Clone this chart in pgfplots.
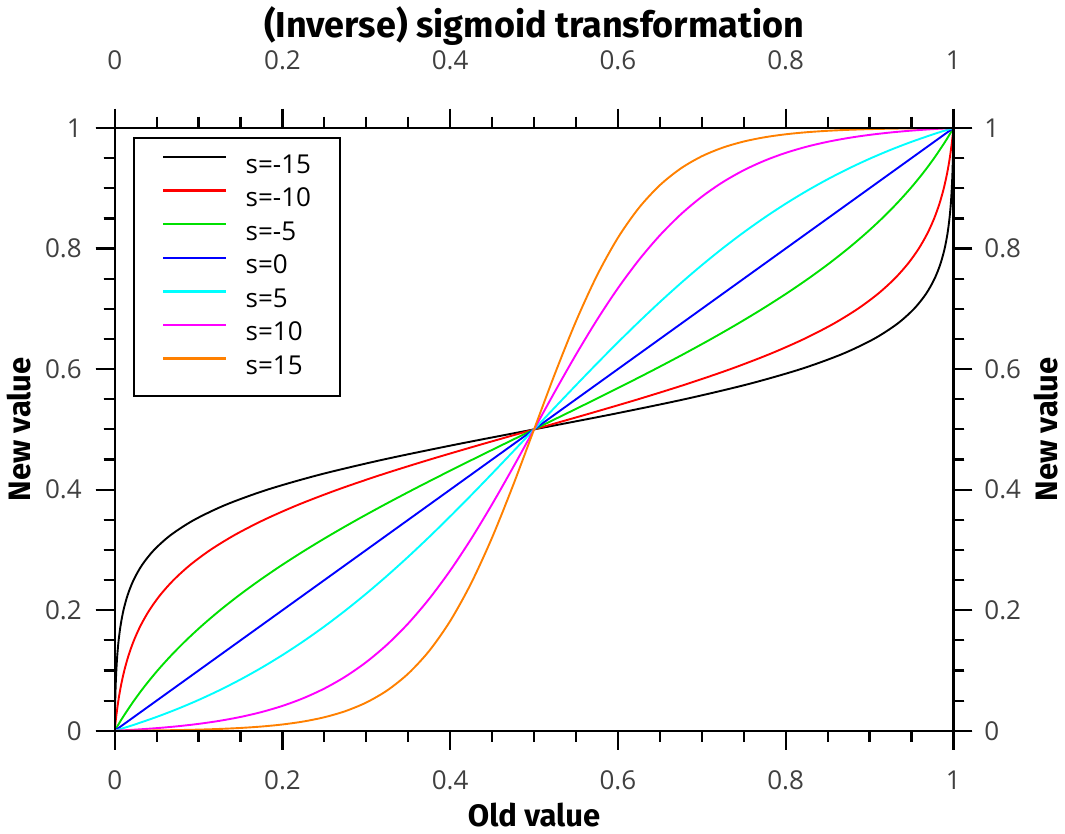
\documentclass[border=0pt]{standalone}
\usepackage{fontspec}
\setmainfont{Open Sans}
\newfontfamily\labelfont{Fira Sans}
\usepackage{pgfplots}
\usepackage{pgfplotstable}
\pgfplotsset{compat=1.18}

\definecolor{tickgray}{HTML}{404040}
\definecolor{sred}{RGB}{255,0,0}
\definecolor{sgreen}{RGB}{0,224,0}
\definecolor{sblue}{RGB}{0,0,255}
\definecolor{scyan}{RGB}{0,255,255}
\definecolor{smagenta}{RGB}{255,0,255}
\definecolor{sorange}{RGB}{255,128,0}

% x = old value, pN = new value for s = N (inverse curves: swap columns)
\pgfplotstableread{
x      p5       p10      p15
0      0        0        0
0.0125 0.005305 0.000896 0.000114
0.025  0.010894 0.001910 0.000252
0.05   0.022977 0.004352 0.000617
0.075  0.036348 0.007471 0.001149
0.1    0.051097 0.011447 0.001922
0.125  0.067320 0.016506 0.003044
0.15   0.085100 0.022926 0.004673
0.175  0.104515 0.031050 0.007032
0.2    0.125628 0.041286 0.010446
0.225  0.148483 0.054118 0.015371
0.25   0.173105 0.070104 0.022449
0.275  0.199493 0.089859 0.032570
0.3    0.227616 0.114037 0.046925
0.325  0.257410 0.143272 0.067068
0.35   0.288775 0.178117 0.094901
0.375  0.321575 0.218938 0.132558
0.4    0.355639 0.265806 0.182074
0.425  0.390758 0.318390 0.244803
0.45   0.426703 0.375880 0.320623
0.475  0.463209 0.436979 0.407229
0.5    0.5      0.5      0.5
0.525  0.536791 0.563021 0.592771
0.55   0.573297 0.624120 0.679377
0.575  0.609242 0.681610 0.755197
0.6    0.644361 0.734194 0.817926
0.625  0.678425 0.781062 0.867442
0.65   0.711225 0.821883 0.905099
0.675  0.742590 0.856728 0.932932
0.7    0.772384 0.885963 0.953075
0.725  0.800507 0.910141 0.967430
0.75   0.826895 0.929896 0.977551
0.775  0.851517 0.945882 0.984629
0.8    0.874372 0.958714 0.989554
0.825  0.895485 0.968950 0.992968
0.85   0.914900 0.977074 0.995327
0.875  0.932680 0.983494 0.996956
0.9    0.948903 0.988553 0.998078
0.925  0.963652 0.992529 0.998851
0.95   0.977023 0.995648 0.999383
0.975  0.989106 0.998090 0.999748
0.9875 0.994695 0.999104 0.999886
1      1        1        1
}\sigdata

\pgfplotsset{
  sigax/.style={
    scale only axis,
    width=419.5pt, height=301.5pt,
    xmin=0, xmax=1, ymin=0, ymax=1,
    xtick={0,0.2,0.4,0.6,0.8,1},
    ytick={0,0.2,0.4,0.6,0.8,1},
    minor tick num=3,
    tick align=outside,
    major tick length=9.5pt,
    minor tick length=5.5pt,
    axis line style={line width=1.1pt},
    tick style={line width=1.1pt, black},
    ticklabel style={font=\fontsize{13}{15}\selectfont, text=tickgray},
    /pgf/number format/assume math mode=true,
  },
}

\begin{document}
\begin{tikzpicture}
\begin{axis}[
  sigax,
  xticklabel pos=lower, yticklabel pos=left,
  xticklabel style={yshift=-7pt},
  yticklabel style={xshift=-3.5pt},
  xlabel={\labelfont\bfseries Old value},
  ylabel={\labelfont\bfseries New value},
  xlabel style={at={(axis description cs:0.5,-0.14)}, anchor=center, font=\fontsize{15.5}{18}\selectfont},
  ylabel style={at={(axis description cs:-0.1145,0.5)}, anchor=center, font=\fontsize{15.5}{18}\selectfont},
  every axis plot/.append style={line width=0.95pt, smooth},
  legend style={
    at={(axis description cs:0.0215,0.985)}, anchor=north west,
    draw=black, line width=1pt,
    font=\fontsize{13}{15}\selectfont,
    inner xsep=14.5pt, inner ysep=8pt,
    row sep=4.8pt, column sep=10pt,
    nodes={inner sep=0pt, text height=9.5pt, text depth=2.5pt},
  },
  legend cell align=left,
  legend image code/.code={\fill[#1, draw=none] (0pt,3.9pt) rectangle (31.5pt,5.1pt);},
]
\addplot[black]    table[x=p15, y=x] {\sigdata};
\addlegendentry{s=-15}
\addplot[sred]     table[x=p10, y=x] {\sigdata};
\addlegendentry{s=-10}
\addplot[sgreen]   table[x=p5, y=x] {\sigdata};
\addlegendentry{s=-5}
\addplot[sblue]    coordinates {(0,0) (1,1)};
\addlegendentry{s=0}
\addplot[scyan]    table[x=x, y=p5] {\sigdata};
\addlegendentry{s=5}
\addplot[smagenta] table[x=x, y=p10] {\sigdata};
\addlegendentry{s=10}
\addplot[sorange]  table[x=x, y=p15] {\sigdata};
\addlegendentry{s=15}
\end{axis}
\begin{axis}[
  sigax,
  xticklabel pos=upper, yticklabel pos=right,
  xticklabel style={yshift=16pt},
  yticklabel style={xshift=2.5pt},
  title={\labelfont\bfseries (Inverse) sigmoid transformation},
  title style={at={(axis description cs:0.5,1.169)}, anchor=center, yshift=-6pt, font=\fontsize{18}{21}\selectfont},
  ylabel={\labelfont\bfseries New value},
  ylabel style={at={(axis description cs:1.1108,0.5)}, anchor=center, font=\fontsize{15.5}{18}\selectfont},
]
\end{axis}
\end{tikzpicture}
\end{document}
